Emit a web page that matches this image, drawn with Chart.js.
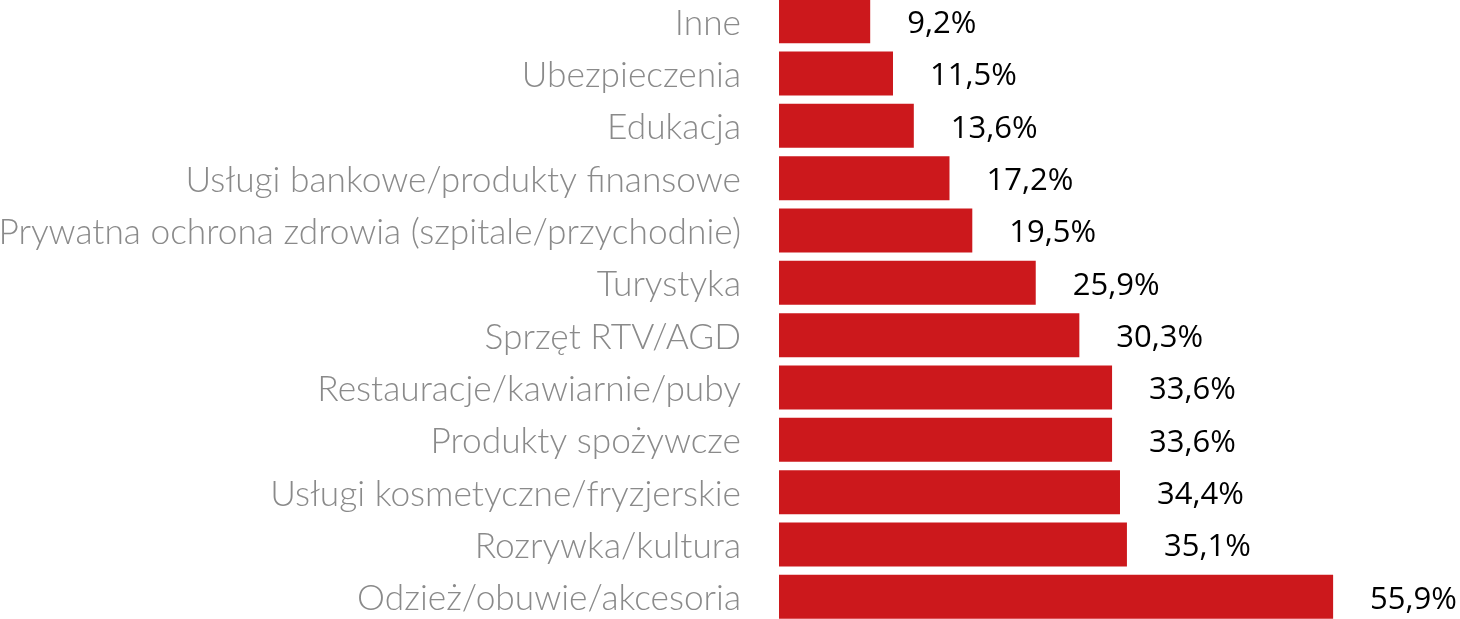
<!DOCTYPE html>
<html>
<head>
<meta charset="utf-8">
<script src="https://cdn.jsdelivr.net/npm/chart.js@4"></script>
<style>
html,body{margin:0;padding:0;background:#fff;overflow:hidden;width:1460px;height:619px;}
#wrap{position:absolute;left:0;top:-5px;width:1460px;height:628px;}
</style>
</head>
<body>
<div id="wrap"><canvas id="c"></canvas></div>
<script>
const categories = [
  "Inne",
  "Ubezpieczenia",
  "Edukacja",
  "Usługi bankowe/produkty finansowe",
  "Prywatna ochrona zdrowia (szpitale/przychodnie)",
  "Turystyka",
  "Sprzęt RTV/AGD",
  "Restauracje/kawiarnie/puby",
  "Produkty spożywcze",
  "Usługi kosmetyczne/fryzjerskie",
  "Rozrywka/kultura",
  "Odzież/obuwie/akcesoria"
];
const values = [9.2, 11.5, 13.6, 17.2, 19.5, 25.9, 30.3, 33.6, 33.6, 34.4, 35.1, 55.9];
const valueLabels = values.map(v => v.toFixed(1).replace('.', ',') + '%');

const valueLabelPlugin = {
  id: 'valueLabels',
  afterDatasetsDraw(chart) {
    const ctx = chart.ctx;
    const meta = chart.getDatasetMeta(0);
    ctx.save();
    ctx.font = '31px "Open Sans", sans-serif';
    ctx.fillStyle = '#000';
    ctx.textAlign = 'left';
    ctx.textBaseline = 'middle';
    meta.data.forEach((el, i) => {
      ctx.fillText(valueLabels[i], el.x + 37, el.y + 3);
    });
    ctx.restore();
  }
};

new Chart(document.getElementById('c'), {
  type: 'bar',
  data: {
    labels: categories,
    datasets: [{
      data: values,
      backgroundColor: '#CC181C',
      borderWidth: 0,
      barPercentage: 0.84,
      categoryPercentage: 1.0
    }]
  },
  options: {
    indexAxis: 'y',
    responsive: true,
    maintainAspectRatio: false,
    animation: false,
    layout: { padding: 0 },
    plugins: { legend: { display: false }, tooltip: { enabled: false } },
    scales: {
      x: {
        display: false,
        min: 0,
        max: 68.7
      },
      y: {
        grid: { display: false, drawTicks: false },
        border: { display: false },
        ticks: {
          color: '#8a8a8a',
          font: { family: 'Lato', weight: 300, size: 35.3 },
          padding: 38,
          labelOffset: 2,
          autoSkip: false
        },
        afterFit(scale) {
          scale.width = 779;
          scale.paddingTop = 0;
          scale.paddingBottom = 0;
        }
      }
    }
  },
  plugins: [valueLabelPlugin]
});
</script>
</body>
</html>
